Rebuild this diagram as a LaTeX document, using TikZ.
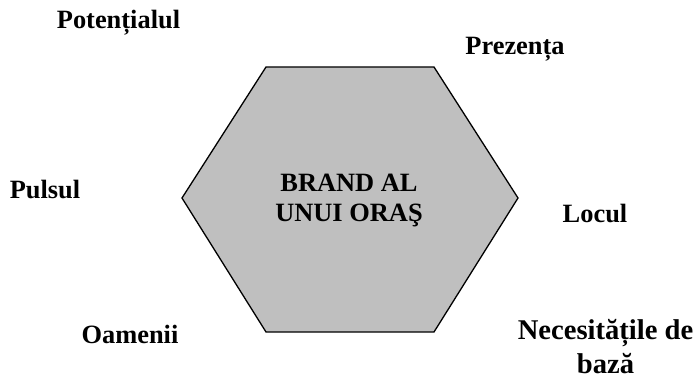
\documentclass[tikz,border=0pt]{standalone}
\usepackage{fontspec}
\setmainfont{Liberation Serif}
\usepackage{tikz}
\usetikzlibrary{positioning}

\begin{document}
\begin{tikzpicture}[
    x=1pt, y=-1pt,
    lbl/.style={font=\fontsize{26.4}{30}\selectfont\bfseries, anchor=base, inner sep=0pt},
    biglbl/.style={font=\fontsize{28.6}{34}\selectfont\bfseries, align=center, inner sep=0pt},
    hexa/.style={draw=black, line width=1.3pt, fill=black!25, line join=miter}
]
\useasboundingbox (0,0) rectangle (698,382);

% Hexagon corners
\def\xL{182}
\def\xA{266}
\def\xB{434}
\def\xR{518}
\def\yT{67}
\def\yM{198}
\def\yB{332}

% === Hexagon ===
\coordinate (h1) at (\xA, \yT);
\coordinate (h2) at (\xB, \yT);
\coordinate (h3) at (\xR, \yM);
\coordinate (h4) at (\xB, \yB);
\coordinate (h5) at (\xA, \yB);
\coordinate (h6) at (\xL, \yM);
\draw[hexa] (h1) -- (h2) -- (h3) -- (h4) -- (h5) -- (h6) -- cycle;

% Centre text
\node[lbl] (brand1) at (349, 191.7) {BRAND AL};
\node[lbl] (brand2) at (349, 221.7) {UNUI ORAŞ};

% === Surrounding labels ===
\node[lbl] (potential) at (118.5, 29) {Potențialul};
\node[lbl] (prezenta) at (515, 54.3) {Prezența};
\node[lbl] (puls) at (45, 198) {Pulsul};
\node[lbl] (loc) at (595, 222.7) {Locul};
\node[lbl] (oameni) at (130, 343.3) {Oamenii};
\node[biglbl, anchor=base] (necesitati) at (605.5, 339.3) {Necesitățile de};
\node[biglbl, anchor=base] (baza) at (605.5, 373.3) {bază};

\end{tikzpicture}
\end{document}
